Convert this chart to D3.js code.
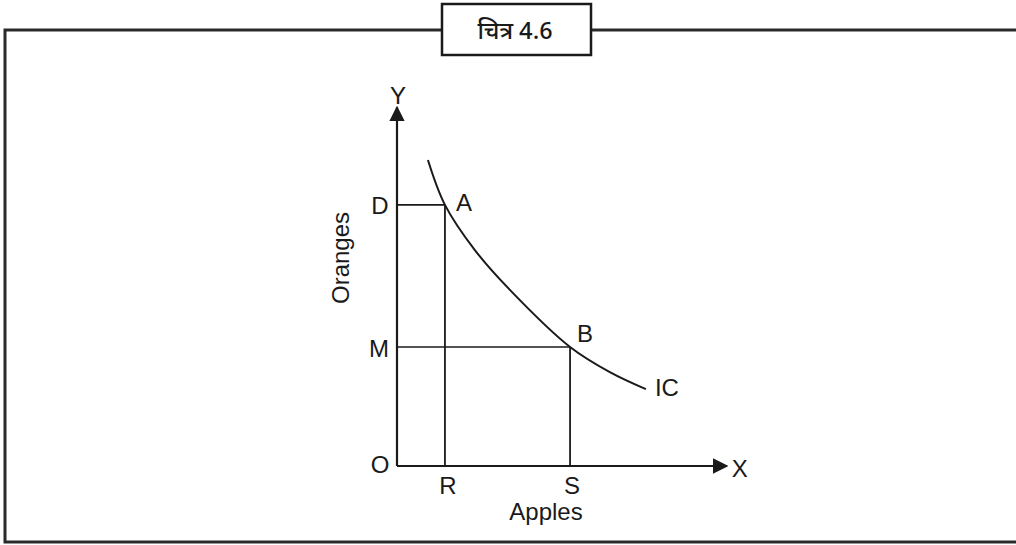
<!DOCTYPE html>
<html>
<head>
<meta charset="utf-8">
<script src="https://cdn.jsdelivr.net/npm/d3@7"></script>
<style>
  body { margin: 0; background: #fff; }
  text { font-family: "Liberation Sans", Arial, sans-serif; fill: #1a1a1a; }
</style>
</head>
<body>
<div id="chart"></div>
<script>
// Indifference curve IC (apples, oranges)
const icApples  = [0.91, 1.41, 2.29, 3.32, 5.09, 6.26, 7.32];
const icOranges = [9.0, 7.68, 6.35, 5.18, 3.5, 2.76, 2.26];

// Named points on the curve
const pointNames   = ["A", "B"];
const pointApples  = [1.41, 5.09];
const pointOranges = [7.68, 3.5];
const appleTicks   = ["R", "S"];
const orangeTicks  = ["D", "M"];

const title = "चित्र 4.6";

const W = 1016, H = 545;
const svg = d3.select("#chart").append("svg")
    .attr("width", W)
    .attr("height", H);

// scales: 34px per unit, origin at (397, 466)
const x = d3.scaleLinear().domain([0, 10]).range([397, 737]);
const y = d3.scaleLinear().domain([0, 10]).range([466, 126]);

// outer frame
svg.append("rect")
    .attr("x", 5).attr("y", 30)
    .attr("width", W + 10).attr("height", 512)
    .attr("fill", "none")
    .attr("stroke", "#2a2a2a")
    .attr("stroke-width", 3);

// title box
svg.append("rect")
    .attr("x", 442).attr("y", 4)
    .attr("width", 149).attr("height", 51)
    .attr("fill", "#fff")
    .attr("stroke", "#1a1a1a")
    .attr("stroke-width", 2.5);
svg.append("text")
    .attr("x", 515).attr("y", 39)
    .attr("text-anchor", "middle")
    .style("font-family", "'Noto Sans Devanagari', 'Lohit Devanagari', 'Noto Sans', sans-serif")
    .style("font-size", "24px")
    .style("font-weight", "500")
    .text(title);

// arrow marker
svg.append("defs").append("marker")
    .attr("id", "arrow")
    .attr("viewBox", "0 0 10 10")
    .attr("refX", 9).attr("refY", 5)
    .attr("markerWidth", 7).attr("markerHeight", 7)
    .attr("markerUnits", "strokeWidth")
    .attr("orient", "auto")
  .append("path")
    .attr("d", "M0,0 L10,5 L0,10 Z")
    .attr("fill", "#1a1a1a");

const ink = "#1a1a1a";
const yTop = 10.55, xEnd = 9.7;

// axes
svg.append("line")
    .attr("x1", x(0)).attr("y1", y(0))
    .attr("x2", x(0)).attr("y2", y(yTop))
    .attr("stroke", ink).attr("stroke-width", 2.2)
    .attr("marker-end", "url(#arrow)");
svg.append("line")
    .attr("x1", x(0)).attr("y1", y(0))
    .attr("x2", x(xEnd)).attr("y2", y(0))
    .attr("stroke", ink).attr("stroke-width", 2.2)
    .attr("marker-end", "url(#arrow)");

// guide lines from points to axes
pointNames.forEach((n, i) => {
    svg.append("line")
        .attr("x1", x(0)).attr("y1", y(pointOranges[i]))
        .attr("x2", x(pointApples[i])).attr("y2", y(pointOranges[i]))
        .attr("stroke", ink).attr("stroke-width", 1.6);
    svg.append("line")
        .attr("x1", x(pointApples[i])).attr("y1", y(pointOranges[i]))
        .attr("x2", x(pointApples[i])).attr("y2", y(0))
        .attr("stroke", ink).attr("stroke-width", 1.8);
});

// the curve
const icData = icApples.map((a, i) => [a, icOranges[i]]);
svg.append("path")
    .datum(icData)
    .attr("fill", "none")
    .attr("stroke", ink)
    .attr("stroke-width", 2)
    .attr("d", d3.line()
        .x(d => x(d[0]))
        .y(d => y(d[1]))
        .curve(d3.curveCatmullRom));

const fs = "24px";
function label(tx, ty, s) {
    return svg.append("text")
        .attr("x", tx).attr("y", ty)
        .attr("text-anchor", "middle")
        .style("font-size", fs)
        .text(s);
}

// point labels
label(x(pointApples[0]) + 19, y(pointOranges[0]) + 6, pointNames[0]);
label(x(pointApples[1]) + 15, y(pointOranges[1]) - 5, pointNames[1]);
label(x(icApples[icApples.length - 1]) + 21, y(icOranges[icOranges.length - 1]) + 7, "IC");

// axis letters
label(x(0) - 17, y(pointOranges[0]) + 9, orangeTicks[0]);
label(x(0) - 18, y(pointOranges[1]) + 10, orangeTicks[1]);
label(x(pointApples[0]) + 3, y(0) + 28, appleTicks[0]);
label(x(pointApples[1]) + 2, y(0) + 28, appleTicks[1]);
label(x(0) - 17, y(0) + 7, "O");
label(x(0) + 1, y(yTop) - 3, "Y");
label(x(xEnd) + 13, y(0) + 11, "X");

// axis titles
label(546, 520, "Apples");
svg.append("text")
    .attr("transform", "translate(349, 258) rotate(-90)")
    .attr("text-anchor", "middle")
    .style("font-size", fs)
    .text("Oranges");
</script>
</body>
</html>
